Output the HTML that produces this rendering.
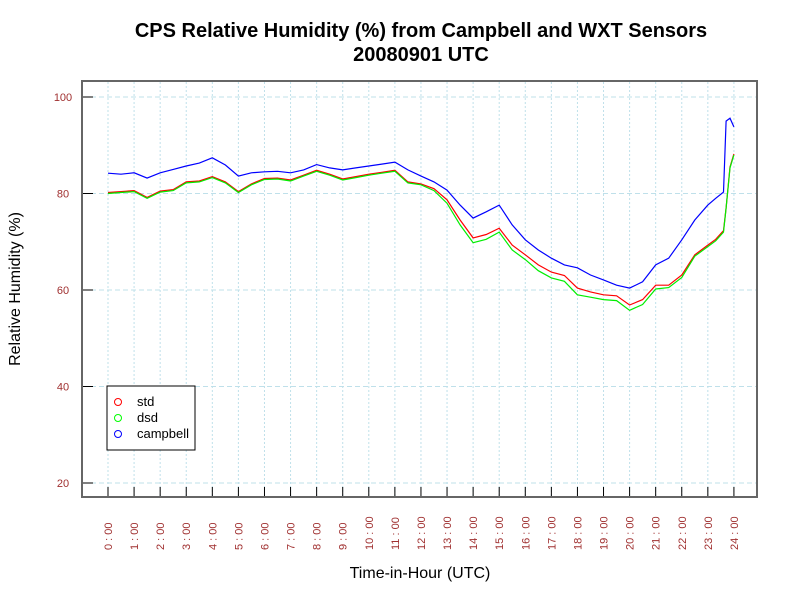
<!DOCTYPE html>
<html><head><meta charset="utf-8"><style>
body{margin:0;background:#fff;}
svg{display:block;font-family:"Liberation Sans",sans-serif;}
</style></head><body>
<svg id="chart" width="800" height="600" viewBox="0 0 800 600">
<text x="421" y="37" text-anchor="middle" font-size="20" font-weight="bold">CPS Relative Humidity (%) from Campbell and WXT Sensors</text>
<text x="421" y="61" text-anchor="middle" font-size="20" font-weight="bold">20080901  UTC</text>
<g id="grid"></g>
<g id="series"></g>
<rect x="82" y="81" width="675" height="416" fill="none" stroke="#666" stroke-width="2"/>
<g id="axes"></g>
<text transform="translate(20,289) rotate(-90)" text-anchor="middle" font-size="16">Relative Humidity (%)</text>
<text x="420" y="578" text-anchor="middle" font-size="16">Time-in-Hour (UTC)</text>
<g>
<rect x="107" y="386" width="88" height="64" fill="#fff" stroke="#000"/>
<circle cx="118" cy="402" r="3.5" fill="none" stroke="#f00"/>
<text x="137" y="406" font-size="13">std</text>
<circle cx="118" cy="418" r="3.5" fill="none" stroke="#0f0"/>
<text x="137" y="422" font-size="13">dsd</text>
<circle cx="118" cy="434" r="3.5" fill="none" stroke="#00f"/>
<text x="137" y="438" font-size="13">campbell</text>
</g>
</svg>
<script>
const hours = [0,0.5,1,1.5,2,2.5,3,3.5,4,4.5,5,5.5,6,6.5,7,7.5,8,8.5,9,9.5,10,10.5,11,11.5,12,12.5,13,13.5,14,14.5,15,15.5,16,16.5,17,17.5,18,18.5,19,19.5,20,20.5,21,21.5,22,22.5,23,23.3,23.6,23.7,23.85,24];
const campbell = [84.2,84.0,84.3,83.2,84.3,85.0,85.7,86.3,87.4,85.9,83.6,84.3,84.5,84.6,84.3,84.9,86.0,85.3,84.9,85.3,85.7,86.1,86.5,84.9,83.6,82.4,80.7,77.6,74.9,76.2,77.6,73.5,70.4,68.3,66.6,65.2,64.6,63.1,62.1,61.0,60.4,61.7,65.2,66.6,70.4,74.5,77.6,79.0,80.3,95.0,95.6,93.8];
const stdVals = [80.2,80.4,80.6,79.2,80.5,80.8,82.4,82.6,83.5,82.4,80.4,82.0,83.1,83.2,82.8,83.8,84.8,84.0,83.0,83.5,84.0,84.4,84.8,82.4,82.0,81.0,78.7,74.5,70.8,71.5,72.8,69.3,67.3,65.2,63.7,63.0,60.4,59.6,59.0,58.8,56.9,58.0,61.0,61.0,63.1,67.3,69.3,70.5,72.3,77.0,85.5,88.2];
const dsdVals = [80.0,80.2,80.4,79.0,80.3,80.6,82.2,82.4,83.3,82.2,80.2,81.8,82.9,83.0,82.6,83.6,84.6,83.8,82.8,83.3,83.8,84.2,84.6,82.2,81.8,80.6,78.0,73.5,69.8,70.5,72.0,68.3,66.3,64.0,62.5,61.8,59.0,58.5,58.0,57.8,55.8,57.0,60.2,60.5,62.6,67.0,69.0,70.2,72.0,77.0,85.3,88.0];
const yTicks = [20,40,60,80,100];
const xTickLabels = ["0:00","1:00","2:00","3:00","4:00","5:00","6:00","7:00","8:00","9:00","10:00","11:00","12:00","13:00","14:00","15:00","16:00","17:00","18:00","19:00","20:00","21:00","22:00","23:00","24:00"];

const NS = "http://www.w3.org/2000/svg";
const X = h => 108 + h * 26.08;
const Y = v => 97 + (100 - v) * 4.825;
function mk(tag, attrs, parent){const e=document.createElementNS(NS,tag);for(const k in attrs)e.setAttribute(k,attrs[k]);parent.appendChild(e);return e;}
const grid=document.getElementById('grid'), axes=document.getElementById('axes'), series=document.getElementById('series');
yTicks.forEach(v=>{
  const g=mk('line',{x1:83,x2:756,y1:Y(v),y2:Y(v),stroke:'#bfe0ea','stroke-dasharray':'5,3'},grid);
  
  
  const t=mk('line',{x1:83,x2:93,y1:Y(v),y2:Y(v),stroke:'#000'},axes);
  
  
  const l=mk('text',{x:63,y:Y(v)+4,'text-anchor':'middle','font-size':'11',fill:'#a03030'},axes);
  l.textContent=v;
  
  
});
xTickLabels.forEach((s,i)=>{
  const g=mk('line',{x1:X(i),x2:X(i),y1:82,y2:496,stroke:'#bfe0ea','stroke-dasharray':'2,2'},grid);
  
  
  const t=mk('line',{x1:X(i),x2:X(i),y1:487,y2:496,stroke:'#000'},axes);
  
  
  const l=mk('text',{transform:`translate(${X(i)+4},550) rotate(-90)`,'text-anchor':'start','font-size':'11',fill:'#a03030'},axes);
  l.textContent=s.replace(':',' : ');
  
  
});
function line(vals,color,name){
  const p=mk('polyline',{points:hours.map((h,i)=>X(h).toFixed(1)+','+Y(vals[i]).toFixed(1)).join(' '),fill:'none',stroke:color,'stroke-width':1.2},series);
  
  
}
line(stdVals,'#f00','series-std');
line(dsdVals,'#0e0','series-dsd');
line(campbell,'#00f','series-campbell');
</script>
</body></html>
